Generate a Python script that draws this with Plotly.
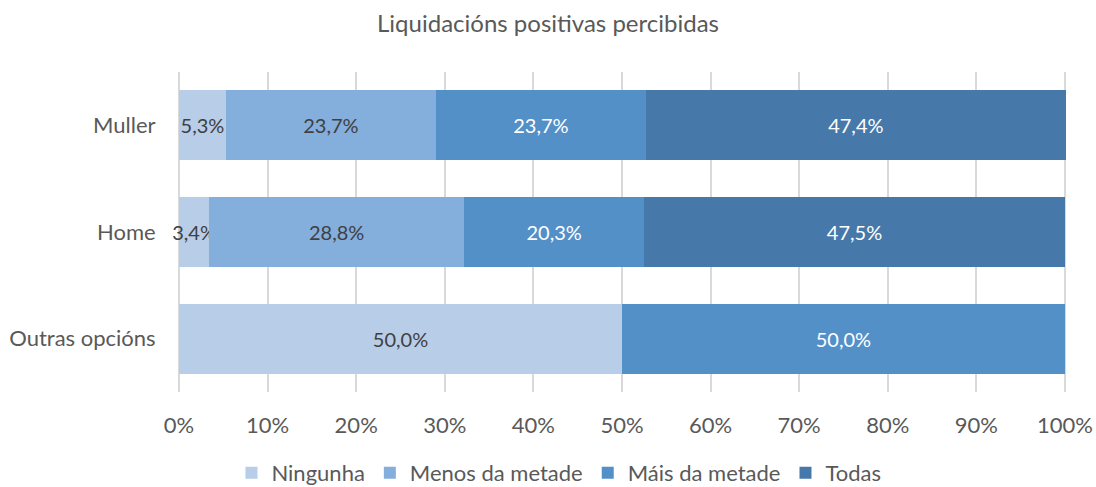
import plotly.graph_objects as go

categories = ["Muller", "Home", "Outras opcións"]
series_names = ["Ningunha", "Menos da metade", "Máis da metade", "Todas"]
ningunha = [5.3, 3.4, 50.0]
menos = [23.7, 28.8, 0.0]
mais = [23.7, 20.3, 50.0]
todas = [47.4, 47.5, 0.0]
values = [ningunha, menos, mais, todas]
colors = ["#B8CDE8", "#84AEDC", "#5490C8", "#4679A9"]
text_colors = ["#404040", "#404040", "#FFFFFF", "#FFFFFF"]
tick_vals = [0, 10, 20, 30, 40, 50, 60, 70, 80, 90, 100]
tick_text = ["0%", "10%", "20%", "30%", "40%", "50%", "60%", "70%", "80%", "90%", "100%"]

FONT = "Lato"

fig = go.Figure()
for i, (name, vals, col, tcol) in enumerate(zip(series_names, values, colors, text_colors)):
    fig.add_trace(go.Bar(
        y=categories, x=vals, name=name, orientation="h",
        marker=dict(color=col, line=dict(width=0)),
        text=[("%.1f%%" % v).replace(".", ",") if v > 0 else "" for v in vals],
        textposition="inside", insidetextanchor="middle", textangle=0,
        textfont=dict(color=tcol, size=20, family=FONT),
        cliponaxis=(i != 0),
        hoverinfo="skip",
    ))

fig.update_layout(
    barmode="stack", bargap=0.346,
    width=1096, height=487,
    margin=dict(l=179, r=30, t=72, b=95, autoexpand=False),
    paper_bgcolor="white", plot_bgcolor="white",
    font=dict(family=FONT, color="#595959", size=22),
    uniformtext=dict(minsize=20, mode="show"),
    title=dict(text="Liquidacións positivas percibidas", x=0.5, xanchor="center",
               yref="container", y=1 - 24 / 487, yanchor="middle",
               font=dict(size=24, color="#595959", family=FONT)),
    legend=dict(orientation="h", xref="container", x=0.51, xanchor="center",
                yref="container", y=14 / 487, yanchor="middle",
                font=dict(size=22, color="#595959", family=FONT), traceorder="normal",
                itemwidth=30),
    xaxis=dict(range=[0, 100.12], tickvals=tick_vals, ticktext=tick_text,
               showgrid=True, gridcolor="#D9D9D9", gridwidth=1.5,
               zeroline=True, zerolinecolor="#D9D9D9", zerolinewidth=1.5,
               showline=False, automargin=False,
               ticks="outside", ticklen=14, tickcolor="rgba(0,0,0,0)",
               tickfont=dict(size=22, color="#595959")),
    yaxis=dict(autorange="reversed", showgrid=False, zeroline=False, showline=False,
               automargin=False,
               ticks="outside", ticklen=18, tickcolor="rgba(0,0,0,0)",
               tickfont=dict(size=22, color="#595959")),
)

fig.write_html("out.html", config={"displayModeBar": False},
               post_script="document.body.style.margin='0';")
